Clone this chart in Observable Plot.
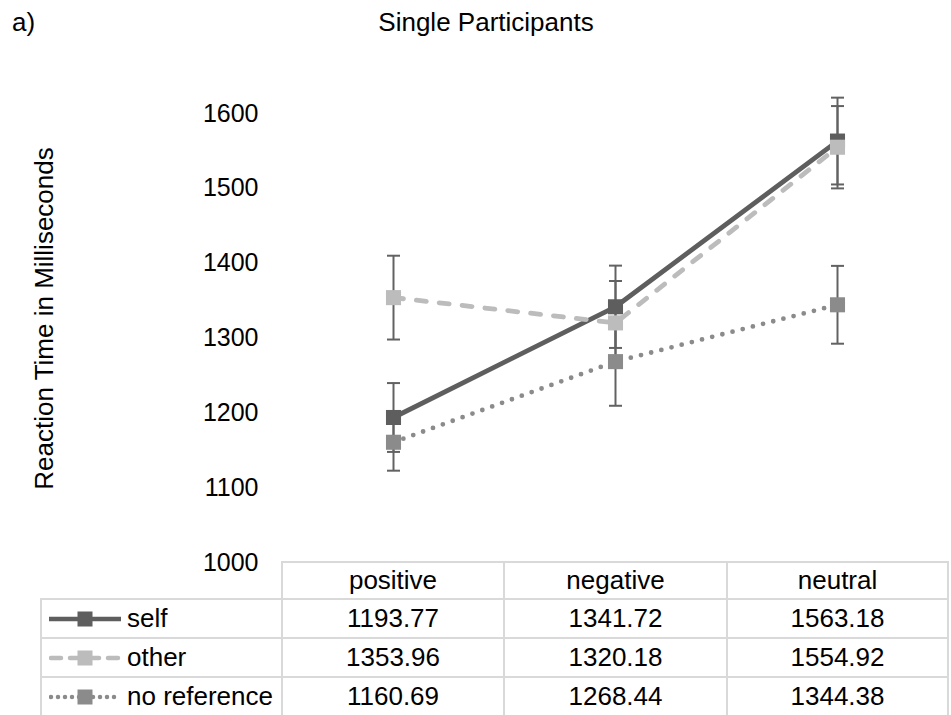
<!DOCTYPE html>
<html>
<head>
<meta charset="utf-8">
<script src="https://cdn.jsdelivr.net/npm/d3@7"></script>
<script src="https://cdn.jsdelivr.net/npm/@observablehq/plot@0.6"></script>
<style>
  body { margin: 0; background: #fff; font-family: "Liberation Sans", Arial, sans-serif; color: #000; }
  #wrap { position: relative; width: 951px; height: 715px; overflow: hidden; background: #fff; }
  #panel { position: absolute; left: 12px; top: 7px; font-size: 26px; }
  #title { position: absolute; left: 0; width: 972px; top: 7px; text-align: center; font-size: 26px; }
  #chart { position: absolute; left: 0; top: 50px; }
  #table { position: absolute; left: 0; top: 0; width: 951px; height: 715px; pointer-events: none; }
  .cell { position: absolute; box-sizing: border-box; border: 2px solid #d9d9d9; font-size: 26px;
          display: flex; align-items: center; justify-content: center; background: #fff; }
  .lab { justify-content: flex-start; }
  .lab svg { margin-left: 7px; margin-right: 6px; flex: none; }
</style>
</head>
<body>
<div id="wrap">
  <div id="panel">a)</div>
  <div id="title">Single Participants</div>
  <div id="chart"></div>
  <div id="table"></div>
</div>
<script>
// ---- data ----
const categories = ["positive", "negative", "neutral"];
const seriesNames = ["self", "other", "no reference"];
const selfMeans = [1193.77, 1341.72, 1563.18];
const otherMeans = [1353.96, 1320.18, 1554.92];
const noRefMeans = [1160.69, 1268.44, 1344.38];
const selfErr = [46, 55, 58];
const otherErr = [56, 56, 55];
const noRefErr = [38, 59, 52];
const yTicks = [1000, 1100, 1200, 1300, 1400, 1500, 1600];
const yLabel = "Reaction Time in Milliseconds";

// ---- styles ----
const styles = {
  "self": {color: "#5e5e5e", dash: null},
  "other": {color: "#bcbcbc", dash: "10,13"},
  "no reference": {color: "#8b8b8b", dash: "0,10.5"}
};
const errColor = "#626262";

const means = [selfMeans, otherMeans, noRefMeans];
const errs = [selfErr, otherErr, noRefErr];
const rows = seriesNames.flatMap((s, si) => categories.map((c, ci) => ({
  series: s, cat: c, value: means[si][ci], lo: means[si][ci] - errs[si][ci], hi: means[si][ci] + errs[si][ci]
})));

const capSymbol = {
  draw(context, size) {
    const r = Math.sqrt(size / Math.PI);
    context.moveTo(-r, 0);
    context.lineTo(r, 0);
  }
};

const marks = [];
// error bars
marks.push(Plot.ruleX(rows, {x: "cat", y1: "lo", y2: "hi", stroke: errColor, strokeWidth: 2}));
marks.push(Plot.dot(rows, {x: "cat", y: "lo", symbol: capSymbol, r: 6.5, fill: "none", stroke: errColor, strokeWidth: 2}));
marks.push(Plot.dot(rows, {x: "cat", y: "hi", symbol: capSymbol, r: 6.5, fill: "none", stroke: errColor, strokeWidth: 2}));
// lines + markers per series
for (const s of seriesNames) {
  const d = rows.filter(r => r.series === s);
  const st = styles[s];
  marks.push(Plot.line(d, {x: "cat", y: "value", stroke: st.color, strokeWidth: 4.8,
    strokeDasharray: st.dash, strokeLinecap: st.dash ? "round" : "butt"}));
  marks.push(Plot.dot(d, {x: "cat", y: "value", symbol: "square", r: 8.5, fill: st.color, stroke: "none"}));
}
// y-axis title
marks.push(Plot.text([yLabel], {frameAnchor: "left", textAnchor: "middle", text: d => d, rotate: -90, dx: -238, dy: -19.5,
  fontSize: 26, fill: "#000"}));

const chart = Plot.plot({
  width: 951,
  height: 525,
  marginTop: 63,
  marginBottom: 13,
  marginLeft: 282,
  marginRight: 3,
  style: {fontSize: "25px", fontFamily: "'Liberation Sans', Arial, sans-serif", color: "#000", background: "transparent", overflow: "visible"},
  x: {type: "point", domain: categories, padding: 0.5, axis: null},
  y: {domain: [1000, 1600], ticks: yTicks, tickSize: 0, tickPadding: 24, label: null, tickFormat: d => String(d)},
  marks
});
document.getElementById("chart").appendChild(chart);

// ---- data table below the plot ----
const colEdges = [41, 282, 504, 727, 948];
const rowEdges = [562, 599, 638, 677, 716];
const tbl = document.getElementById("table");
function cell(ci, ri, content, cls) {
  const el = document.createElement("div");
  el.className = "cell" + (cls ? " " + cls : "");
  el.style.left = (colEdges[ci] - 1) + "px";
  el.style.top = (rowEdges[ri] - 1) + "px";
  el.style.width = (colEdges[ci + 1] - colEdges[ci] + 2) + "px";
  el.style.height = (rowEdges[ri + 1] - rowEdges[ri] + 2) + "px";
  if (typeof content === "string") el.textContent = content; else el.appendChild(content);
  tbl.appendChild(el);
  return el;
}
categories.forEach((c, i) => cell(i + 1, 0, c));
const fmt = d3.format(".2f");
seriesNames.forEach((s, si) => {
  const st = styles[s];
  const frag = document.createElement("span");
  frag.style.display = "flex";
  frag.style.alignItems = "center";
  const ns = "http://www.w3.org/2000/svg";
  const sw = document.createElementNS(ns, "svg");
  sw.setAttribute("width", 72); sw.setAttribute("height", 20);
  const ln = document.createElementNS(ns, "line");
  ln.setAttribute("x1", st.dash ? 2 : 0); ln.setAttribute("x2", st.dash ? 70 : 72);
  ln.setAttribute("y1", 10); ln.setAttribute("y2", 10);
  ln.setAttribute("stroke", st.color); ln.setAttribute("stroke-width", 4.5);
  ln.setAttribute("stroke-linecap", "round");
  if (st.dash) ln.setAttribute("stroke-dasharray", st.dash === "0,10.5" ? "0,7" : "10,9");
  sw.appendChild(ln);
  const sq = document.createElementNS(ns, "rect");
  sq.setAttribute("x", 28.5); sq.setAttribute("y", 2.5); sq.setAttribute("width", 15); sq.setAttribute("height", 15);
  sq.setAttribute("fill", st.color);
  sw.appendChild(sq);
  frag.appendChild(sw);
  const tx = document.createElement("span");
  tx.textContent = s;
  frag.appendChild(tx);
  cell(0, si + 1, frag, "lab");
  means[si].forEach((v, ci) => cell(ci + 1, si + 1, fmt(v)));
});
</script>
</body>
</html>
